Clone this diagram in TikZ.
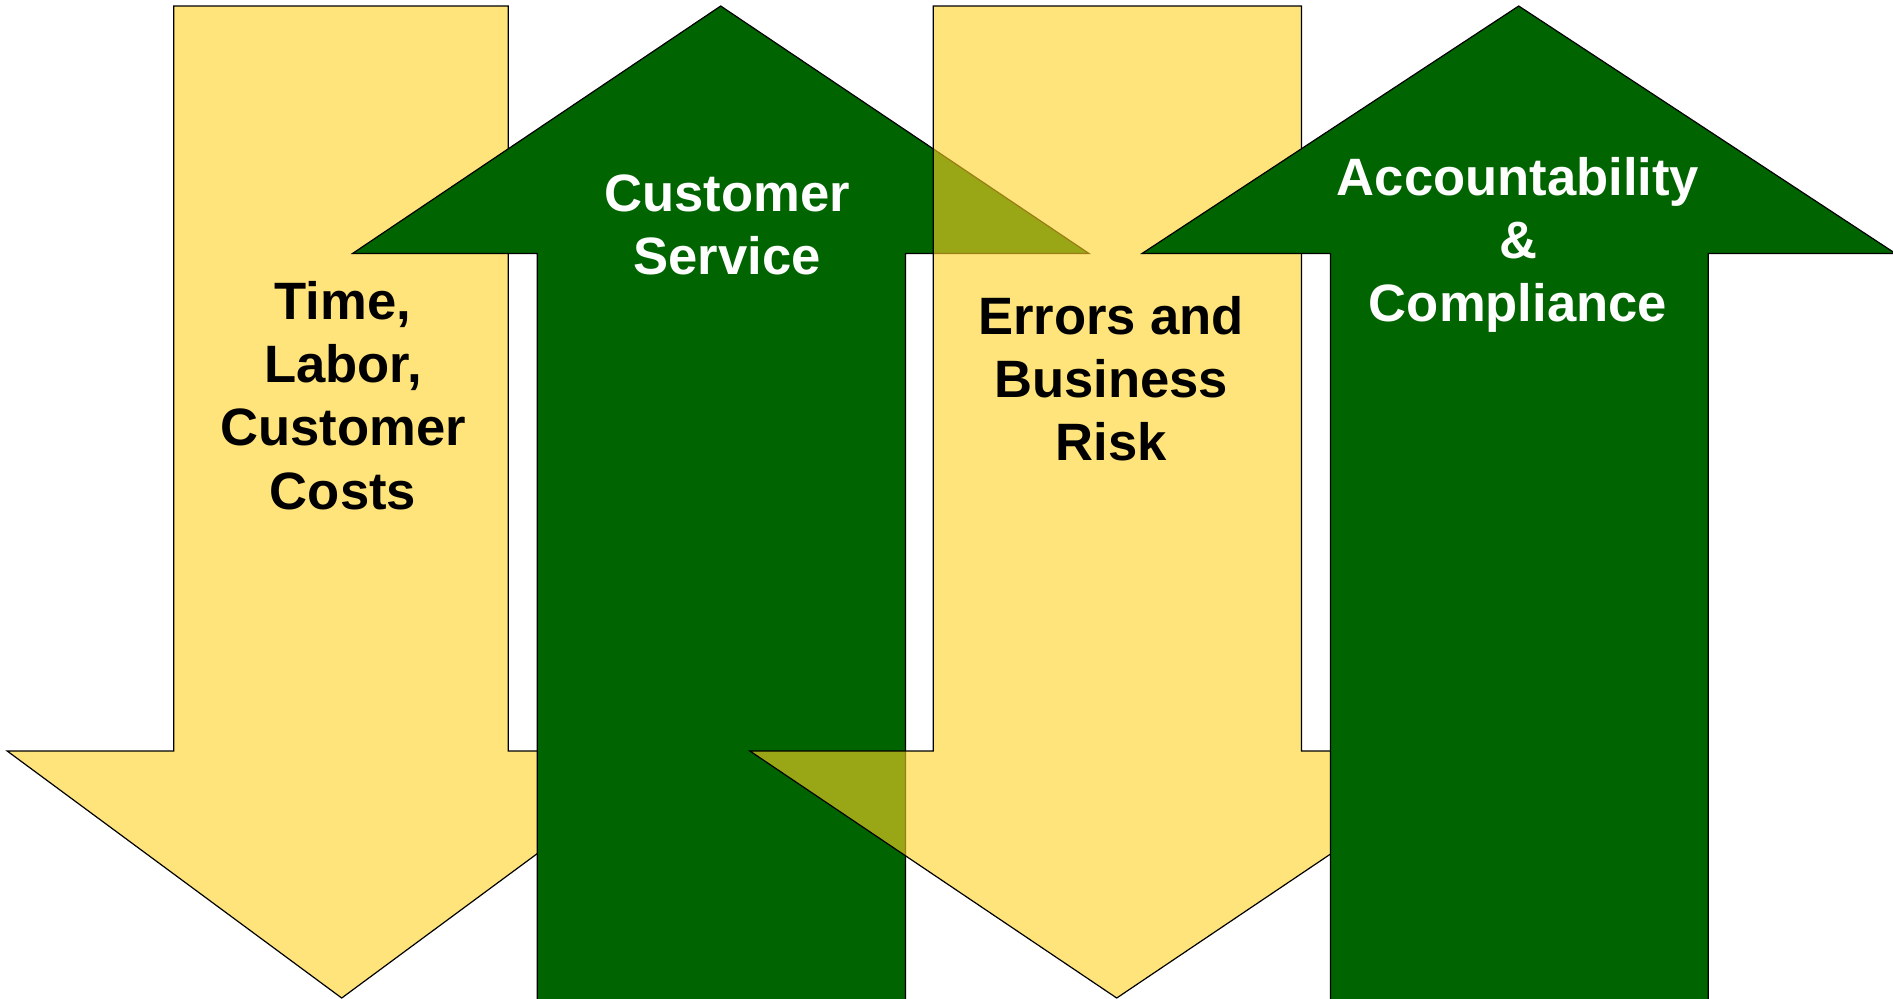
\documentclass[tikz,border=0pt]{standalone}
\usepackage{fontspec}
\setmainfont{Liberation Sans}
\definecolor{ygold}{RGB}{255,210,35}
\definecolor{dgreen}{RGB}{0,100,0}
\begin{document}
\begin{tikzpicture}[x=0.5pt,y=-0.5pt,
  yarrow/.style={fill=ygold,fill opacity=0.6,draw=black,line width=0.6pt,line join=miter},
  garrow/.style={fill=dgreen,draw=black,line width=0.6pt,line join=miter},
  lbl/.style={anchor=north,inner sep=0pt,align=center,
    font=\fontsize{26.3}{31.6}\selectfont\bfseries}]
\useasboundingbox (0,0) rectangle (1893,998);
\clip (0,0) rectangle (1893,998);
% yellow down arrow 1
\draw[yarrow] (173.8,6) -- (508.3,6) -- (508.3,751) -- (676.2,751) -- (341.7,998)
  -- (7.2,751) -- (173.8,751) -- cycle;
% green up arrow 1
\draw[garrow] (720.7,6) -- (1089,253.5) -- (905.5,253.5) -- (905.5,1010)
  -- (537.2,1010) -- (537.2,253.5) -- (352.5,253.5) -- cycle;
% yellow down arrow 2
\draw[yarrow] (933.2,6) -- (1301.4,6) -- (1301.4,751) -- (1483.5,751) -- (1116.7,998)
  -- (749.9,751) -- (933.2,751) -- cycle;
% green up arrow 2
\draw[garrow] (1518.7,6) -- (1895.5,253.5) -- (1708.3,253.5) -- (1708.3,1010)
  -- (1330.4,1010) -- (1330.4,253.5) -- (1142,253.5) -- cycle;
% labels
\node[lbl,text=black] (t1) at (343,281) {Time,\\Labor,\\Customer\\Costs};
\node[lbl,text=white] (t2) at (727,174) {Customer\\Service};
\node[lbl,text=black] (t3) at (1111,296) {Errors and\\Business\\Risk};
\node[lbl,text=white] (t4) at (1518,157) {Accountability\\\&\\Compliance};
\end{tikzpicture}
\end{document}
